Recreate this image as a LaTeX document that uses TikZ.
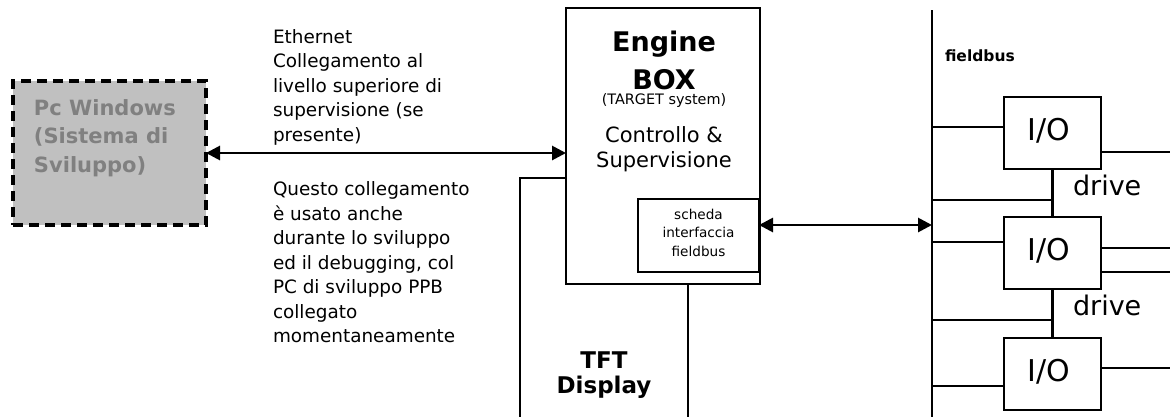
\documentclass[tikz,border=0pt]{standalone}
\usepackage{fontspec}
\setmainfont{DejaVu Sans}
\usetikzlibrary{arrows.meta}
\definecolor{pcfill}{HTML}{C0C0C0}
\definecolor{pcink}{HTML}{808080}

\begin{document}
\begin{tikzpicture}[x=1pt,y=-1pt,
  every node/.style={inner sep=0pt, outer sep=0pt},
  frame/.style={draw=black, line width=2.4pt, fill=white, rectangle},
  pcbox/.style={draw=black, line width=3.5pt, dash pattern=on 10pt off 6pt, fill=pcfill, rectangle},
  wire/.style={line width=2.2pt},
  tipT/.tip={Triangle[length=14pt,width=14pt]},
  biarrow/.style={line width=2.8pt, tipT-tipT},
  note/.style={font=\fontsize{18.4}{24.5}\selectfont, align=left, anchor=north west},
  pclabel/.style={font=\fontsize{21}{28.5}\selectfont\bfseries, text=pcink, align=left, anchor=north west},
  enginebig/.style={font=\fontsize{27}{30}\selectfont\bfseries, anchor=base},
  enginesmall/.style={font=\fontsize{14.4}{16}\selectfont, anchor=base},
  enginemid/.style={font=\fontsize{21}{24}\selectfont, anchor=base},
  cardlabel/.style={font=\fontsize{13.6}{18.5}\selectfont, align=center, anchor=north},
  tftlabel/.style={font=\fontsize{23}{25}\selectfont\bfseries, align=center, anchor=north},
  buslabel/.style={font=\fontsize{15.5}{17}\selectfont\bfseries, anchor=base west},
  iolabel/.style={font=\fontsize{30}{32}\selectfont, anchor=base},
  drivelabel/.style={font=\fontsize{27}{30}\selectfont, anchor=base west},
  iobox/.style={frame, minimum width=97pt, minimum height=72pt}
]
\useasboundingbox (0,0) rectangle (1170,416);
\fill[white] (0,0) rectangle (1170,416);
\clip (0,0) rectangle (1170,416);

% TFT display (runs off the bottom), partly hidden by the engine box
\node[frame, minimum width=168pt, minimum height=262pt] (tft) at (604,309) {};
\node[tftlabel] (tfttext) at (604,352.2) {TFT\\Display};

% Engine box with the fieldbus interface card
\node[frame, minimum width=194pt, minimum height=276pt] (engine) at (663,146) {};
\node[enginebig] (engA) at (664,51) {Engine};
\node[enginebig] (engB) at (664,89) {BOX};
\node[enginesmall] (engC) at (664,104.5) {(TARGET system)};
\node[enginemid] (engD) at (664,142) {Controllo \&};
\node[enginemid] (engE) at (664,167) {Supervisione};
\node[frame, minimum width=121pt, minimum height=73pt] (card) at (698.5,235.5) {};
\node[cardlabel] (cardtext) at (698.5,208.7) {scheda\\interfaccia\\fieldbus};

% Development PC
\node[pcbox, minimum width=193pt, minimum height=144pt] (pc) at (109.5,153) {};
\node[pclabel] (pctext) at (34,99.5) {Pc Windows\\(Sistema di\\Sviluppo)};

% Ethernet link and its notes
\draw[biarrow] (pc.east) -- (pc.east -| engine.west);
\node[note] (eth) at (273,29.5) {Ethernet\\Collegamento al\\livello superiore di\\supervisione (se\\presente)};
\node[note] (devnote) at (273,182) {Questo collegamento\\è usato anche\\durante lo sviluppo\\ed il debugging, col\\PC di sviluppo PPB\\collegato\\momentaneamente};

% Fieldbus line
\coordinate (bustop) at (932,10);
\coordinate (busbot) at (932,420);
\coordinate (redge) at (1172,0);
\draw[wire] (bustop) -- (busbot);
\node[buslabel] (bustext) at (945,61) {fieldbus};
\path ([yshift=10.5pt]card.east) coordinate (fbstart);
\draw[biarrow] (fbstart) -- (fbstart -| bustop);

% I/O modules
\node[iobox] (io1) at (1052.5,133) {};
\node[iobox] (io2) at (1052.5,253) {};
\node[iobox] (io3) at (1052.5,374) {};
\node[iolabel] (io1t) at ([xshift=-4pt,yshift=-7pt]io1.center) {I/O};
\node[iolabel] (io2t) at ([xshift=-4pt,yshift=-7pt]io2.center) {I/O};
\node[iolabel] (io3t) at ([xshift=-4pt,yshift=-7pt]io3.center) {I/O};

% bus taps into the modules
\path ([yshift=6pt]io1.west) coordinate (t1)
      ([yshift=11pt]io2.west) coordinate (t2)
      ([yshift=-12pt]io3.west) coordinate (t3);
\draw[wire] (t1 -| bustop) -- (t1);
\draw[wire] (t2 -| bustop) -- (t2);
\draw[wire] (t3 -| bustop) -- (t3);

% drive links between the modules
\coordinate (d1) at (1052.5,200);
\coordinate (d2) at (1052.5,320);
\draw[wire] (io1.south) -- (io2.north);
\draw[wire] (io2.south) -- (io3.north);
\draw[wire] (d1 -| bustop) -- (d1);
\draw[wire] (d2 -| bustop) -- (d2);
\node[drivelabel] (drv1) at (1073,195) {drive};
\node[drivelabel] (drv2) at (1073,315) {drive};

% outputs to the right
\path ([yshift=-19pt]io1.east) coordinate (o1)
      ([yshift=5pt]io2.east) coordinate (o2)
      ([yshift=-19pt]io2.east) coordinate (o3)
      ([yshift=6pt]io3.east) coordinate (o4);
\draw[wire] (o1) -- (o1 -| redge);
\draw[wire] (o2) -- (o2 -| redge);
\draw[wire] (o3) -- (o3 -| redge);
\draw[wire] (o4) -- (o4 -| redge);
\end{tikzpicture}
\end{document}
